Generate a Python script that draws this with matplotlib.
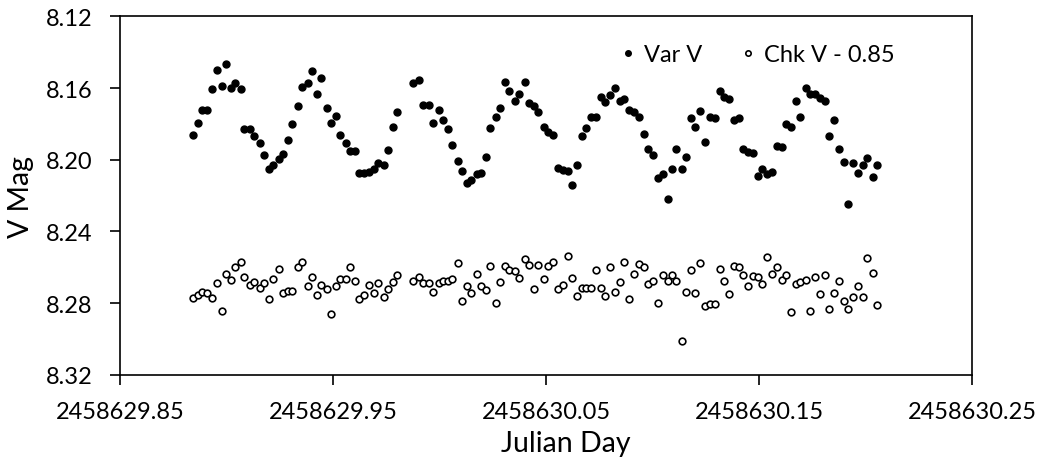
import numpy as np
import matplotlib
matplotlib.use("Agg")
import matplotlib.pyplot as plt
from matplotlib.ticker import FixedLocator, FormatStrFormatter

plt.rcParams['font.family'] = ['Lato', 'DejaVu Sans']

# JD = jd_base + jd_offset
jd_base = 2458629.0
jd_offset = [
    0.8840, 0.8866, 0.8885, 0.8906, 0.8931, 0.8956, 0.8976, 0.8996, 0.9020, 0.9039,
    0.9066, 0.9081, 0.9109, 0.9129, 0.9156, 0.9175, 0.9198, 0.9219, 0.9245, 0.9264,
    0.9289, 0.9308, 0.9333, 0.9352, 0.9380, 0.9399, 0.9424, 0.9444, 0.9469, 0.9488,
    0.9513, 0.9532, 0.9559, 0.9577, 0.9604, 0.9621, 0.9646, 0.9667, 0.9692, 0.9710,
    0.9737, 0.9757, 0.9782, 0.9801, 0.9876, 0.9903, 0.9923, 0.9949, 0.9969, 0.9996,
    1.0014, 1.0041, 1.0059, 1.0085, 1.0104, 1.0128, 1.0149, 1.0174, 1.0194, 1.0219,
    1.0238, 1.0265, 1.0283, 1.0308, 1.0327, 1.0354, 1.0373, 1.0399, 1.0418, 1.0441,
    1.0463, 1.0488, 1.0509, 1.0531, 1.0554, 1.0578, 1.0601, 1.0623, 1.0644, 1.0667,
    1.0687, 1.0711, 1.0734, 1.0756, 1.0778, 1.0802, 1.0824, 1.0847, 1.0867, 1.0891,
    1.0913, 1.0936, 1.0958, 1.0980, 1.1002, 1.1027, 1.1048, 1.1071, 1.1091, 1.1110,
    1.1137, 1.1156, 1.1181, 1.1199, 1.1224, 1.1245, 1.1270, 1.1292, 1.1315, 1.1337,
    1.1360, 1.1381, 1.1405, 1.1426, 1.1450, 1.1472, 1.1495, 1.1515, 1.1539, 1.1561,
    1.1583, 1.1607, 1.1628, 1.1650, 1.1672, 1.1694, 1.1719, 1.1739, 1.1763, 1.1786,
    1.1810, 1.1830, 1.1852, 1.1874, 1.1898, 1.1919, 1.1941, 1.1965, 1.1988, 1.2009,
    1.2034, 1.2054,
]

var_v = [
    8.1862, 8.1793, 8.1724, 8.1724, 8.1603, 8.1497, 8.1586, 8.1465, 8.1598, 8.1570,
    8.1603, 8.1830, 8.1830, 8.1867, 8.1908, 8.1975, 8.2053, 8.2029, 8.1997, 8.1968,
    8.1891, 8.1802, 8.1701, 8.1595, 8.1571, 8.1503, 8.1633, 8.1542, 8.1709, 8.1793,
    8.1756, 8.1862, 8.1906, 8.1953, 8.1953, 8.2075, 8.2075, 8.2066, 8.2051, 8.2020,
    8.2029, 8.1945, 8.1815, 8.1732, 8.1571, 8.1556, 8.1694, 8.1694, 8.1793, 8.1724,
    8.1778, 8.1830, 8.1916, 8.2005, 8.2061, 8.2128, 8.2113, 8.2081, 8.2075, 8.1983,
    8.1824, 8.1763, 8.1709, 8.1566, 8.1618, 8.1672, 8.1633, 8.1564, 8.1685, 8.1702,
    8.1732, 8.1815, 8.1847, 8.1862, 8.2044, 8.2057, 8.2061, 8.2142, 8.2029, 8.1867,
    8.1824, 8.1759, 8.1759, 8.1648, 8.1679, 8.1640, 8.1601, 8.1672, 8.1662, 8.1722,
    8.1735, 8.1761, 8.1854, 8.1938, 8.1975, 8.2103, 8.2081, 8.2219, 8.2050, 8.1941,
    8.2051, 8.1983, 8.1768, 8.1815, 8.1729, 8.1899, 8.1759, 8.1768, 8.1618, 8.1648,
    8.1662, 8.1778, 8.1768, 8.1941, 8.1958, 8.1960, 8.2089, 8.2050, 8.2079, 8.2068,
    8.1921, 8.1929, 8.1800, 8.1815, 8.1672, 8.1759, 8.1601, 8.1631, 8.1634, 8.1653,
    8.1672, 8.1867, 8.1778, 8.1938, 8.2014, 8.2248, 8.2020, 8.2075, 8.2029, 8.1988,
    8.2096, 8.2029,
]

chk_v = [
    8.2770, 8.2753, 8.2736, 8.2744, 8.2770, 8.2690, 8.2844, 8.2636, 8.2669, 8.2600,
    8.2569, 8.2653, 8.2701, 8.2684, 8.2716, 8.2690, 8.2776, 8.2667, 8.2608, 8.2744,
    8.2731, 8.2731, 8.2600, 8.2569, 8.2706, 8.2653, 8.2753, 8.2697, 8.2721, 8.2859,
    8.2706, 8.2667, 8.2667, 8.2600, 8.2677, 8.2777, 8.2753, 8.2699, 8.2744, 8.2690,
    8.2768, 8.2721, 8.2682, 8.2643, 8.2675, 8.2653, 8.2690, 8.2690, 8.2736, 8.2690,
    8.2675, 8.2675, 8.2667, 8.2576, 8.2790, 8.2706, 8.2744, 8.2636, 8.2706, 8.2729,
    8.2591, 8.2798, 8.2684, 8.2591, 8.2614, 8.2623, 8.2660, 8.2554, 8.2586, 8.2721,
    8.2586, 8.2667, 8.2591, 8.2569, 8.2721, 8.2699, 8.2539, 8.2660, 8.2759, 8.2714,
    8.2714, 8.2714, 8.2615, 8.2714, 8.2759, 8.2600, 8.2736, 8.2684, 8.2569, 8.2776,
    8.2638, 8.2583, 8.2600, 8.2692, 8.2675, 8.2798, 8.2643, 8.2675, 8.2643, 8.2675,
    8.3012, 8.2736, 8.2615, 8.2744, 8.2576, 8.2815, 8.2805, 8.2805, 8.2608, 8.2675,
    8.2751, 8.2591, 8.2600, 8.2643, 8.2706, 8.2647, 8.2653, 8.2692, 8.2544, 8.2638,
    8.2599, 8.2669, 8.2643, 8.2850, 8.2692, 8.2684, 8.2669, 8.2844, 8.2653, 8.2751,
    8.2645, 8.2835, 8.2744, 8.2677, 8.2790, 8.2835, 8.2768, 8.2706, 8.2768, 8.2547,
    8.2630, 8.2812,
]

x_ticks = [2458629.85, 2458629.95, 2458630.05, 2458630.15, 2458630.25]
y_ticks = [8.12, 8.16, 8.20, 8.24, 8.28, 8.32]

jd = jd_base + np.array(jd_offset)

fig = plt.figure(figsize=(10.48, 4.64), dpi=100)
ax = fig.add_axes([0.1148, 0.1903, 0.8127, 0.7720])

ax.plot(jd, var_v, 'o', color='black', markersize=5.0, label='Var V')
ax.plot(jd, chk_v, 'o', markerfacecolor='white', markeredgecolor='black',
        markeredgewidth=1.2, markersize=4.8, label='Chk V - 0.85')

ax.set_xlim(x_ticks[0], x_ticks[-1])
ax.set_ylim(y_ticks[-1], y_ticks[0])
ax.xaxis.set_major_locator(FixedLocator(x_ticks))
ax.yaxis.set_major_locator(FixedLocator(y_ticks))
ax.xaxis.set_major_formatter(FormatStrFormatter('%.2f'))
ax.yaxis.set_major_formatter(FormatStrFormatter('%.2f'))
ax.tick_params(axis='both', direction='out', length=7, width=1.2,
               labelsize=17, colors='black')
ax.tick_params(axis='x', pad=12)
ax.tick_params(axis='y', pad=13)
for s in ax.spines.values():
    s.set_linewidth(1.2)

ax.set_xlabel('Julian Day', fontsize=20.5)
ax.set_ylabel('V Mag', fontsize=20.5)
ax.xaxis.set_label_coords(0.523, -0.155)
ax.yaxis.set_label_coords(-0.101, 0.5)

ax.legend(loc='center left', bbox_to_anchor=(0.560, 0.893), ncol=2, frameon=False,
          fontsize=17, markerscale=0.8, handletextpad=0.3, columnspacing=1.5,
          handlelength=0.8)

fig.savefig('out.png', dpi=100)
